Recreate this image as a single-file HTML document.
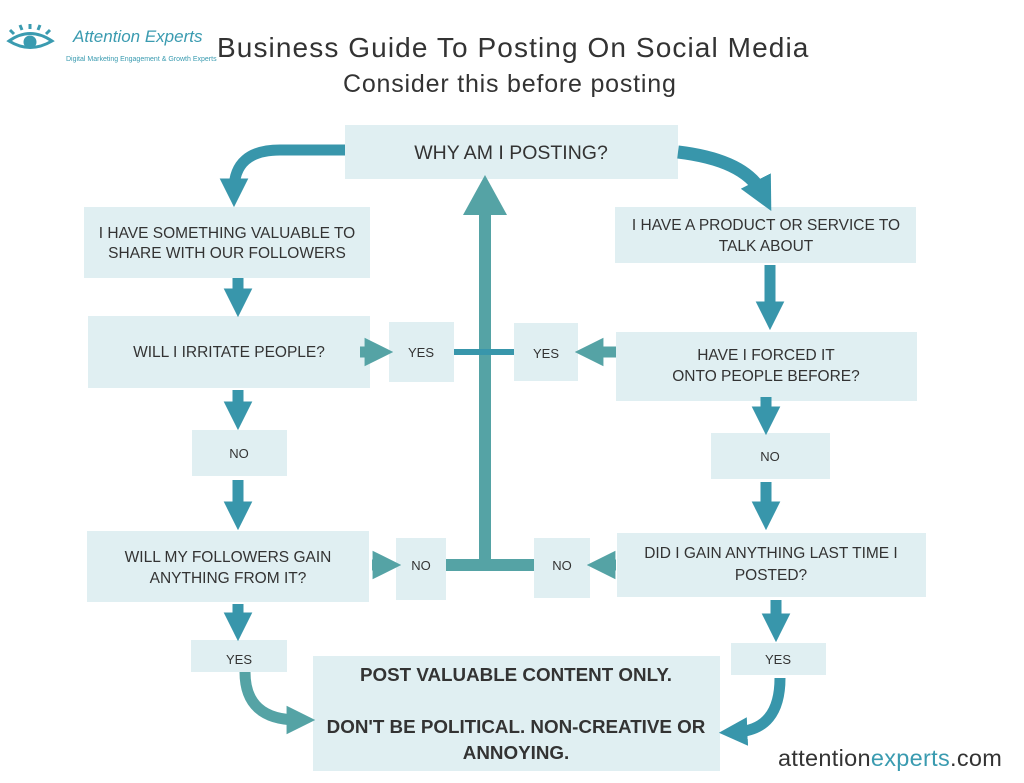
<!DOCTYPE html>
<html><head><style>
body{margin:0;background:#fff;width:1024px;height:783px;overflow:hidden}
svg{display:block}
text{font-family:"Liberation Sans",sans-serif;fill:#333}
</style></head><body>
<svg width="1024" height="783" viewBox="0 0 1024 783">
<defs>
<marker id="h" viewBox="0 0 10 10" refX="4" refY="5" markerWidth="2.6" markerHeight="2.6" orient="auto-start-reverse" markerUnits="strokeWidth"><path d="M0,0L10,5L0,10z" fill="#3896ab"/></marker>
<marker id="h2" viewBox="0 0 10 10" refX="4" refY="5" markerWidth="2.6" markerHeight="2.6" orient="auto" markerUnits="strokeWidth"><path d="M0,0L10,5L0,10z" fill="#55a3a5"/></marker>
</defs>
<g fill="none" stroke="#3a9bb0" stroke-width="3">
<path d="M9,41 Q30,26 52,41 Q30,54 9,41z"/>
<circle cx="30" cy="42" r="5" fill="#3a9bb0"/>
<path d="M14,34l-4,-4M22,30l-2,-5M30,29v-5M38,30l2,-5M46,34l4,-4"/>
</g>
<text x="73" y="42" font-family="Liberation Serif,serif" font-style="italic" font-size="17" style="fill:#3a9bb0">Attention Experts</text>
<text x="66" y="61" font-size="7" style="fill:#3a9bb0">Digital Marketing Engagement &amp; Growth Experts</text>
<text x="217" y="57" font-size="28" letter-spacing="1.1">Business Guide To Posting On Social Media</text>
<text x="343" y="92" font-size="25" letter-spacing="0.8">Consider this before posting</text>
<g fill="#e0eff2">
<rect x="345" y="125" width="333" height="54"/>
<rect x="84" y="207" width="286" height="71"/>
<rect x="88" y="316" width="282" height="72"/>
<rect x="389" y="322" width="65" height="60"/>
<rect x="514" y="323" width="64" height="58"/>
<rect x="616" y="332" width="301" height="69"/>
<rect x="615" y="207" width="301" height="56"/>
<rect x="192" y="430" width="95" height="46"/>
<rect x="711" y="433" width="119" height="46"/>
<rect x="87" y="531" width="282" height="71"/>
<rect x="396" y="538" width="50" height="62"/>
<rect x="534" y="538" width="56" height="60"/>
<rect x="617" y="533" width="309" height="64"/>
<rect x="191" y="640" width="96" height="32"/>
<rect x="313" y="656" width="407" height="115"/>
<rect x="731" y="643" width="95" height="32"/>
</g>
<g stroke="#55a3a5" stroke-width="12" fill="none">
<line x1="485" y1="565" x2="485" y2="215"/>
<line x1="446" y1="565" x2="534" y2="565"/>
<line x1="454" y1="352" x2="514" y2="352" stroke="#3896ab" stroke-width="6"/>
</g>
<path d="M463,215L485,175L507,215z" fill="#55a3a5"/>
<g stroke="#3896ab" stroke-width="11" fill="none" marker-end="url(#h)">
<line x1="238" y1="278" x2="238" y2="300"/>
<line x1="238" y1="390" x2="238" y2="413"/>
<line x1="238" y1="480" x2="238" y2="513"/>
<line x1="238" y1="604" x2="238" y2="624"/>
<line x1="770" y1="265" x2="770" y2="313"/>
<line x1="766" y1="397" x2="766" y2="418"/>
<line x1="766" y1="482" x2="766" y2="513"/>
<line x1="776" y1="600" x2="776" y2="625"/>
<path d="M345,150 H280 Q234,150 234,190"/>
<path d="M678,152 Q745,160 762,193" stroke-width="13"/>
<path d="M780,678 Q780,730 736,732"/>
</g>
<g stroke="#55a3a5" stroke-width="11" fill="none" marker-end="url(#h2)">
<line x1="360" y1="352" x2="376" y2="352"/>
<line x1="372" y1="565" x2="384" y2="565"/>
<line x1="616" y1="352" x2="592" y2="352"/>
<line x1="616" y1="565" x2="604" y2="565"/>
<path d="M245,672 Q245,720 298,720"/>
</g>
<g font-size="15.5" text-anchor="middle">
<text x="511" y="159" font-size="19.5">WHY AM I POSTING?</text>
<text x="227" y="238">I HAVE SOMETHING VALUABLE TO</text>
<text x="227" y="258">SHARE WITH OUR FOLLOWERS</text>
<text x="229" y="357">WILL I IRRITATE PEOPLE?</text>
<text x="421" y="357" font-size="13">YES</text>
<text x="546" y="358" font-size="13">YES</text>
<text x="766" y="230">I HAVE A PRODUCT OR SERVICE TO</text>
<text x="766" y="251">TALK ABOUT</text>
<text x="766" y="360">HAVE I  FORCED IT</text>
<text x="766" y="381">ONTO PEOPLE BEFORE?</text>
<text x="239" y="458" font-size="13">NO</text>
<text x="770" y="461" font-size="13">NO</text>
<text x="228" y="562">WILL MY FOLLOWERS GAIN</text>
<text x="228" y="583">ANYTHING FROM IT?</text>
<text x="421" y="570" font-size="13">NO</text>
<text x="562" y="570" font-size="13">NO</text>
<text x="771" y="558">DID I GAIN ANYTHING LAST TIME I</text>
<text x="771" y="580">POSTED?</text>
<text x="239" y="664" font-size="13">YES</text>
<text x="778" y="664" font-size="13">YES</text>
<g font-weight="bold" font-size="18.8">
<text x="516" y="681">POST VALUABLE CONTENT ONLY.</text>
<text x="516" y="733">DON'T BE POLITICAL. NON-CREATIVE OR</text>
<text x="516" y="759">ANNOYING.</text>
</g>
</g>
<text x="778" y="766" font-size="23.5" letter-spacing="0.3">attention<tspan style="fill:#3a9bb0">experts</tspan>.com</text>
</svg>
</body></html>
